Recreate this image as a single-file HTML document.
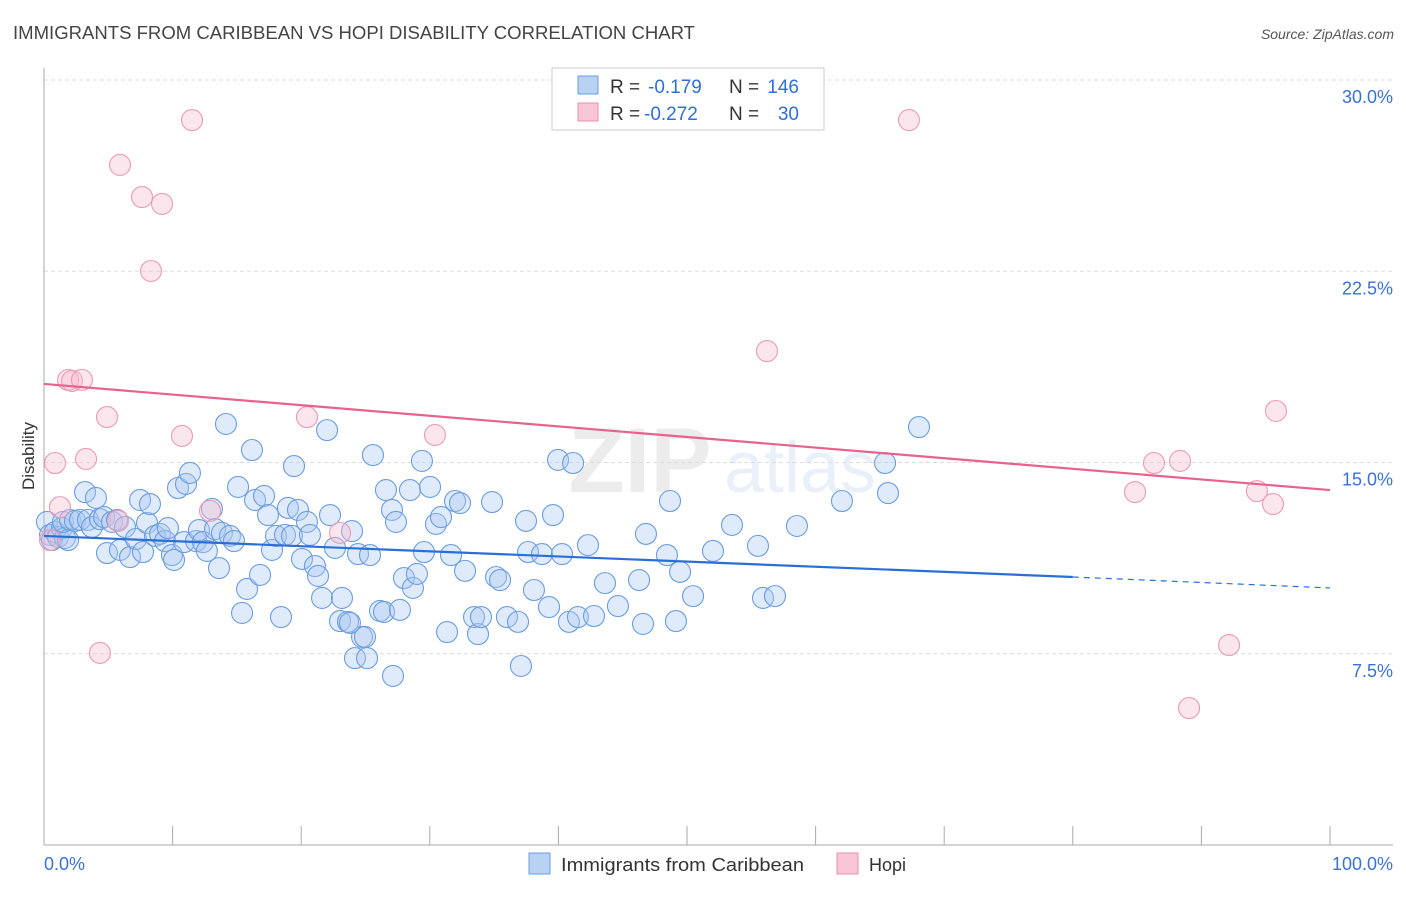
<!DOCTYPE html>
<html><head><meta charset="utf-8"><style>
body{margin:0;background:#fff;font-family:"Liberation Sans",sans-serif;}
svg text{font-family:"Liberation Sans",sans-serif;}
</style></head><body>
<svg id="chart" width="1406" height="892" xmlns="http://www.w3.org/2000/svg">
<text x="13" y="39" font-size="18" fill="#444" textLength="682" lengthAdjust="spacingAndGlyphs">IMMIGRANTS FROM CARIBBEAN VS HOPI DISABILITY CORRELATION CHART</text>
<text x="1394" y="39" font-size="14" fill="#555" text-anchor="end" font-style="italic">Source: ZipAtlas.com</text>
<g opacity="0.18">
<text x="640" y="492" font-size="92" font-family="Liberation Serif" fill="#999" text-anchor="middle" font-weight="bold">ZIP</text>
<text x="800" y="492" font-size="72" fill="#8fb0e0" text-anchor="middle">atlas</text>
</g>
<g id="grid"></g>
<g id="axes"></g>
<g id="pts"></g>
<g id="trend"></g>
<text transform="translate(34,456) rotate(-90)" font-size="17" fill="#333" text-anchor="middle">Disability</text>
<g>
<rect x="552" y="68" width="272" height="62" fill="#fff" stroke="#ccc"/>
<rect x="578" y="76" width="20" height="18" fill="#b8d2f4" stroke="#6a9de0"/>
<text x="610" y="93" font-size="19" fill="#333">R =</text>
<text x="648" y="93" font-size="19" fill="#2f6fd6">-0.179</text>
<text x="729" y="93" font-size="19" fill="#333">N =</text>
<text x="799" y="93" font-size="19" fill="#2f6fd6" text-anchor="end">146</text>
<rect x="578" y="103" width="20" height="18" fill="#f8c6d4" stroke="#e890a8"/>
<text x="610" y="120" font-size="19" fill="#333">R =</text>
<text x="644" y="120" font-size="19" fill="#2f6fd6">-0.272</text>
<text x="729" y="120" font-size="19" fill="#333">N =</text>
<text x="799" y="120" font-size="19" fill="#2f6fd6" text-anchor="end">30</text>
</g>
<g>
<rect x="529" y="853" width="21" height="21" fill="#b8d2f4" stroke="#6a9de0"/>
<text x="561" y="871" font-size="18" fill="#333" textLength="243" lengthAdjust="spacingAndGlyphs">Immigrants from Caribbean</text>
<rect x="837" y="853" width="21" height="21" fill="#f8c6d4" stroke="#e890a8"/>
<text x="869" y="871" font-size="18" fill="#333">Hopi</text>
</g>
</svg>
<script>
const blueX=[0.23,0.47,0.62,0.86,1.09,1.4,1.63,1.87,1.48,2.02,2.41,2.8,3.19,3.42,3.73,4.04,4.35,4.67,4.9,5.29,5.68,5.91,6.3,6.69,7.15,7.47,7.7,8.01,8.24,8.63,9.02,9.41,9.64,9.95,10.11,10.42,10.89,11.04,11.35,11.82,12.05,12.36,12.67,13.06,13.3,13.61,13.84,14.15,14.46,14.77,15.09,15.4,15.79,16.17,16.41,16.8,17.11,17.42,17.73,18.04,18.43,18.74,18.97,19.28,19.44,19.75,20.06,20.45,20.68,21.07,21.31,21.62,22.01,22.24,22.63,23.02,23.17,23.64,23.95,24.18,24.42,24.73,25.12,25.35,25.58,26.13,26.44,26.59,27.06,27.37,27.68,27.99,28.46,28.69,29.0,29.39,29.55,30.02,30.48,30.87,31.34,31.65,31.96,32.35,32.74,33.44,33.75,33.98,34.84,35.15,35.46,36.0,36.86,37.09,37.48,37.64,38.1,38.72,39.27,39.58,39.97,40.28,40.82,41.14,41.52,42.3,42.77,43.62,44.63,46.27,46.58,46.81,48.44,48.68,49.14,49.46,50.47,52.02,53.5,55.52,55.91,56.84,58.55,62.05,65.4,65.63,68.04,27.14,24.96,23.79];
const blueY=[12.67,12.16,11.96,12.27,12.08,12.43,12.04,11.96,12.67,12.75,12.71,12.75,13.84,12.75,12.47,13.61,12.78,12.86,11.45,12.67,12.75,11.57,12.47,11.29,12.0,13.53,11.49,12.63,13.37,12.12,12.2,11.92,12.43,11.37,11.18,14.0,11.88,14.16,14.59,11.92,12.35,11.88,11.53,13.18,12.39,10.86,12.24,16.51,12.12,11.92,14.04,9.1,10.04,15.49,13.53,10.59,13.69,12.94,11.57,12.12,8.94,12.16,13.22,12.12,14.86,13.14,11.22,12.67,12.16,10.94,10.55,9.69,16.27,12.94,11.65,8.78,9.69,8.75,12.31,7.33,11.41,8.16,7.33,11.37,15.29,9.18,9.14,13.92,13.14,12.67,9.22,10.47,13.92,10.08,10.63,15.06,11.49,14.04,12.59,12.86,8.35,11.37,13.49,13.41,10.75,8.94,8.27,8.94,13.45,10.51,10.39,8.94,8.75,7.02,12.71,11.49,10.0,11.41,9.33,12.94,15.1,11.41,8.75,14.98,8.94,11.76,8.98,10.27,9.37,10.39,8.67,12.2,11.37,13.49,8.78,10.71,9.76,11.53,12.55,11.73,9.69,9.76,12.51,13.49,14.98,13.8,16.39,6.63,8.16,8.71];
const pinkX=[0.47,0.86,1.24,1.87,2.18,2.95,3.27,4.35,4.9,5.75,5.91,7.62,8.32,9.18,10.73,11.51,12.91,20.45,23.02,30.4,56.22,67.26,84.84,86.31,88.34,89.04,92.15,94.32,95.57,95.8];
const pinkY=[11.96,14.98,13.25,18.24,18.2,18.24,15.14,7.53,16.78,12.71,26.67,25.41,22.51,25.14,16.04,28.43,13.1,16.78,12.24,16.08,19.37,28.43,13.84,14.98,15.06,5.37,7.84,13.88,13.37,17.02];
const yTicks=[7.5,15,22.5,30];
const yTickLabels=["7.5%","15.0%","22.5%","30.0%"];
const xTickVals=[0,10,20,30,40,50,60,70,80,90,100];
const blueTrend=[12.12,10.51,10.08];
const blueTrendX=[0,80,100];
const pinkTrend=[18.08,13.92];
const pinkTrendX=[0,100];

const X0=44,X1=1330,Y0=845,YTOP=80;
const sx=v=>X0+(X1-X0)*v/100;
const sy=v=>Y0-(Y0-YTOP)*v/30;
const NS="http://www.w3.org/2000/svg";
function mk(tag,attrs,parent){const e=document.createElementNS(NS,tag);for(const k in attrs)e.setAttribute(k,attrs[k]);document.getElementById(parent).appendChild(e);return e;}

yTicks.forEach((t,i)=>{
  const g=mk('line',{x1:X0,x2:1393,y1:sy(t),y2:sy(t),stroke:'#ddd','stroke-dasharray':'4,3'},'grid');
  
  
  const l=mk('text',{x:1393,y:sy(t)+23,'font-size':18,fill:'#3a72d4','text-anchor':'end'},'grid');
  l.textContent=yTickLabels[i];
  
  
});
let ax=mk('line',{x1:X0,x2:X0,y1:68,y2:Y0,stroke:'#aaa'},'axes');


ax=mk('line',{x1:X0,x2:1393,y1:Y0,y2:Y0,stroke:'#aaa'},'axes');


xTickVals.forEach(v=>{
  const t=mk('line',{x1:sx(v),x2:sx(v),y1:826,y2:Y0,stroke:'#aaa'},'axes');
  
  
});
let xl=mk('text',{x:44,y:870,'font-size':18,fill:'#3a72d4'},'axes');
xl.textContent='0.0%';


xl=mk('text',{x:1393,y:870,'font-size':18,fill:'#3a72d4','text-anchor':'end'},'axes');
xl.textContent='100.0%';



blueX.forEach((v,i)=>{
  const c=mk('circle',{cx:sx(v),cy:sy(blueY[i]),r:10.5,fill:'rgba(170,200,242,0.38)',stroke:'#6a9de0','stroke-width':1.1},'pts');
  
  
});
pinkX.forEach((v,i)=>{
  const c=mk('circle',{cx:sx(v),cy:sy(pinkY[i]),r:10.5,fill:'rgba(248,190,208,0.38)',stroke:'#eb9ab2','stroke-width':1.1},'pts');
  
  
});
let tl=mk('line',{x1:sx(blueTrendX[0]),y1:sy(blueTrend[0]),x2:sx(blueTrendX[1]),y2:sy(blueTrend[1]),stroke:'#2a6fd8','stroke-width':2.2},'trend');


tl=mk('line',{x1:sx(blueTrendX[1]),y1:sy(blueTrend[1]),x2:sx(blueTrendX[2]),y2:sy(blueTrend[2]),stroke:'#2a6fd8','stroke-width':1.2,'stroke-dasharray':'6,5'},'trend');


tl=mk('line',{x1:sx(pinkTrendX[0]),y1:sy(pinkTrend[0]),x2:sx(pinkTrendX[1]),y2:sy(pinkTrend[1]),stroke:'#e8638c','stroke-width':2.2},'trend');


</script>
</body></html>
